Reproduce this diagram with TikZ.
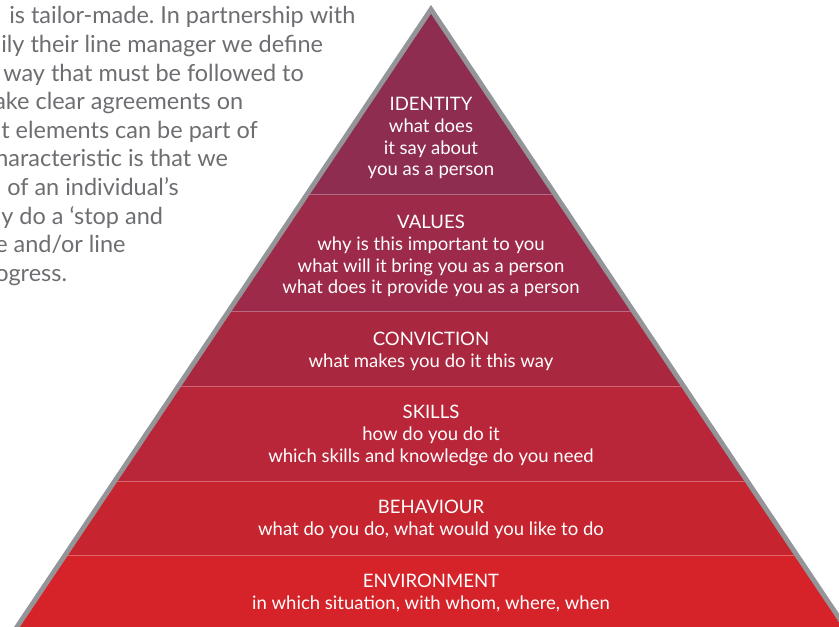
\documentclass[tikz,border=0pt]{standalone}
\usepackage{fontspec}
\setmainfont{Lato}
\usepackage{tikz}
\frenchspacing

\definecolor{rimgrey}{HTML}{939598}
\definecolor{copygrey}{HTML}{6D6E71}
\definecolor{lvlidentity}{HTML}{8E2D50}
\definecolor{lvlvalues}{HTML}{9D2A48}
\definecolor{lvlconviction}{HTML}{A9283F}
\definecolor{lvlskills}{HTML}{B92639}
\definecolor{lvlbehaviour}{HTML}{C6252F}
\definecolor{lvlenvironment}{HTML}{D52329}

\tikzset{
	lvltext/.style={text=white, align=center, inner sep=0pt, anchor=north, font=\fontsize{13.9}{16.3}\selectfont},
	copyline/.style={text=copygrey, inner sep=0pt, anchor=base west, font=\fontsize{17.6}{21.5}\selectfont},
	bandline/.style={white, opacity=0.3, line width=0.75pt}
}

\begin{document}
\begin{tikzpicture}[x=0.75pt,y=-0.75pt]
		\useasboundingbox (0,0) rectangle (839,627);
		\node[copyline] (copy1) at (9,24) {is tailor-made. In partnership with};
		\node[copyline] (copy2) at (1,52.6) {ily their line manager we define};
		\node[copyline] (copy3) at (3,81.2) {way that must be followed to};
		\node[copyline] (copy4) at (-6,109.8) {ake clear agreements on};
		\node[copyline] (copy5) at (1,138.4) {t elements can be part of};
		\node[copyline] (copy6) at (-5,167) {haracteristic is that we};
		\node[copyline] (copy7) at (7,195.6) {of an individual’s};
		\node[copyline] (copy8) at (1,224.2) {y do a ‘stop and};
		\node[copyline] (copy9) at (-5,252.8) {e and/or line};
		\node[copyline] (copy10) at (-5,281.4) {ogress.};
		\fill[rimgrey] (431,5) -- (14,627) -- (848,627) -- cycle;
		\begin{scope}
			\clip (431,14) -- (20,627) -- (842,627) -- cycle;
			\fill[lvlidentity] (0,0) rectangle (839,195);
			\fill[lvlvalues] (0,195) rectangle (839,312);
			\fill[lvlconviction] (0,312) rectangle (839,386);
			\fill[lvlskills] (0,386) rectangle (839,481);
			\fill[lvlbehaviour] (0,481) rectangle (839,555);
			\fill[lvlenvironment] (0,555) rectangle (839,627);
			\draw[bandline] (0,195) -- (839,195);
			\draw[bandline] (0,312) -- (839,312);
			\draw[bandline] (0,386) -- (839,386);
			\draw[bandline] (0,481) -- (839,481);
			\draw[bandline] (0,555) -- (839,555);
		\end{scope}
		\node[lvltext] (identity) at (431,97) {IDENTITY\\what does\\it say about\\you as a person};
		\node[lvltext] (values) at (431,215) {VALUES\\why is this important to you\\what will it bring you as a person\\what does it provide you as a person};
		\node[lvltext] (conviction) at (431,332) {CONVICTION\\what makes you do it this way};
		\node[lvltext] (skills) at (431,405) {SKILLS\\how do you do it\\which skills and knowledge do you need};
		\node[lvltext] (behaviour) at (431,500) {BEHAVIOUR\\what do you do, what would you like to do};
		\node[lvltext] (environment) at (431,574) {ENVIRONMENT\\in which situation, with whom, where, when};
	\end{tikzpicture}
\end{document}
